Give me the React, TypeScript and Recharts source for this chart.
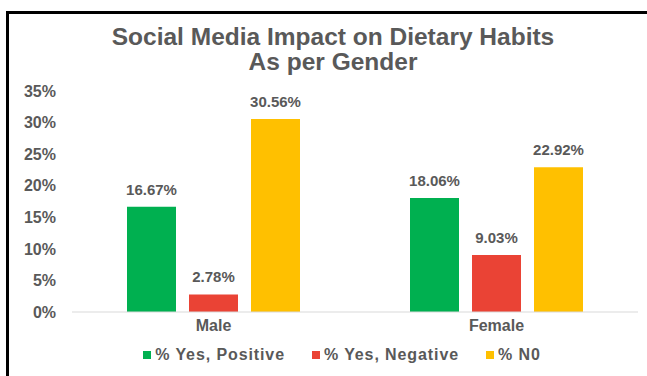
import { BarChart, Bar, XAxis, YAxis, LabelList, Legend } from "recharts";

const genders = ["Male", "Female"];
const yesPositive = [0.1667, 0.1806];
const yesNegative = [0.0278, 0.0903];
const no = [0.3056, 0.2292];
const yTicks = [0, 0.05, 0.1, 0.15, 0.2, 0.25, 0.3, 0.35];

const series = [
  { key: "pos", name: "% Yes, Positive", color: "#00B050" },
  { key: "neg", name: "% Yes, Negative", color: "#EA4335" },
  { key: "no", name: "% N0", color: "#FFC000" },
];

const data = genders.map((g, i) => ({
  gender: g,
  pos: yesPositive[i],
  neg: yesNegative[i],
  no: no[i],
}));

const font = "'Liberation Sans', Arial, sans-serif";
const gray = "#595959";

const pct = (v: number) => `${Math.round(v * 100)}%`;
const pct2 = (v: any) => `${(Number(v) * 100).toFixed(2)}%`;

function LegendBox() {
  return (
    <div
      style={{
        display: "flex",
        justifyContent: "center",
        gap: 27,
        fontFamily: font,
        fontWeight: "bold",
        fontSize: 16,
        letterSpacing: 0.9,
        color: gray,
        paddingLeft: 46,
      }}
    >
      {series.map((s) => (
        <span key={s.key} style={{ display: "flex", alignItems: "center" }}>
          <span
            style={{
              width: 8,
              height: 8,
              background: s.color,
              display: "inline-block",
              marginRight: 4,
            }}
          />
          {s.name}
        </span>
      ))}
    </div>
  );
}

export default function App() {
  return (
    <div
      style={{
        position: "absolute",
        left: 0,
        top: 0,
        width: 647,
        height: 376,
        background: "#fff",
        overflow: "hidden",
      }}
    >
      <div
        style={{
          position: "absolute",
          left: 6,
          top: 11,
          width: 700,
          height: 400,
          borderTop: "3px solid #000",
          borderLeft: "3px solid #000",
        }}
      />
      <div
        style={{
          position: "absolute",
          left: 0,
          top: 24,
          width: 666,
          textAlign: "center",
          fontFamily: font,
          fontWeight: "bold",
          fontSize: 24.5,
          lineHeight: "25px",
          color: gray,
        }}
      >
        Social Media Impact on Dietary Habits
        <br />
        As per Gender
      </div>
      <div style={{ position: "absolute", left: 0, top: 0 }}>
        <BarChart
          width={647}
          height={376}
          data={data}
          margin={{ top: 91, right: 9, left: 0, bottom: 0 }}
          barSize={49}
          barGap={13}
        >
          <XAxis
            dataKey="gender"
            tickLine={false}
            axisLine={{ stroke: "#d9d9d9" }}
            height={34}
            tick={{ fill: gray, fontSize: 16, fontWeight: "bold", fontFamily: font }}
          />
          <YAxis
            width={72}
            domain={[0, 0.35]}
            ticks={yTicks}
            tickFormatter={pct}
            axisLine={false}
            tickLine={false}
            tickMargin={10}
            tick={{ fill: gray, fontSize: 16, fontWeight: "bold", fontFamily: font }}
          />
          <Legend
            content={() => <LegendBox />}
            height={30}
            wrapperStyle={{ top: 346 }}
          />
          {series.map((s) => (
            <Bar key={s.key} dataKey={s.key} name={s.name} fill={s.color} isAnimationActive={false}>
              <LabelList
                dataKey={s.key}
                position="top"
                offset={12}
                formatter={pct2}
                style={{ fill: gray, fontSize: 15, fontWeight: "bold", fontFamily: font }}
              />
            </Bar>
          ))}
        </BarChart>
      </div>
    </div>
  );
}
